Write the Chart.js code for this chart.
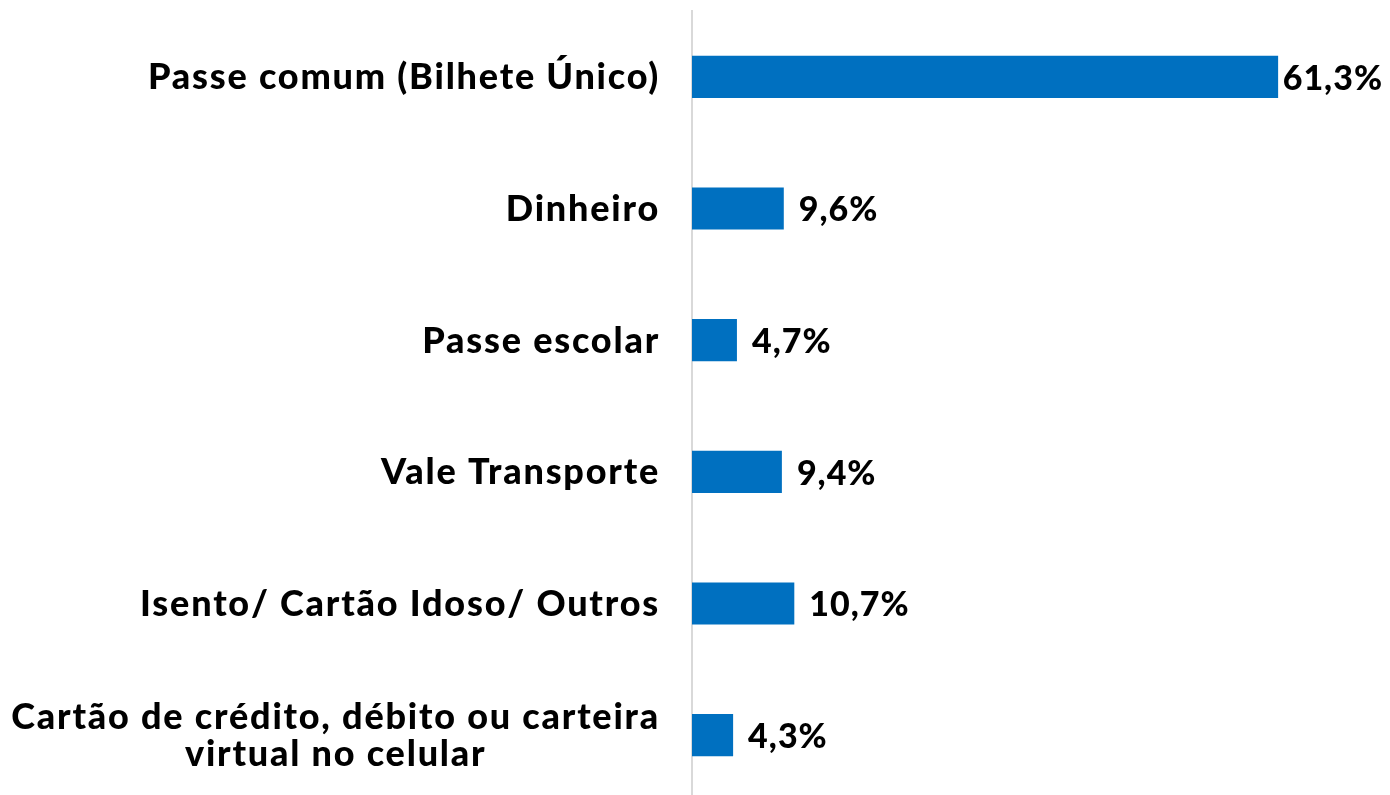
<!DOCTYPE html>
<html lang="pt">
<head>
  <meta charset="UTF-8" />
  <title>Forma de pagamento</title>
  <script src="https://cdn.jsdelivr.net/npm/chart.js"></script>
  <style>
    html, body { margin: 0; padding: 0; background: #fff; overflow: hidden; }
    .wrap { width: 1390px; height: 801px; position: relative; }
  </style>
</head>
<body>
  <div class="wrap"><canvas id="chart"></canvas></div>
  <script>
    const categories = [
      ['Passe comum (Bilhete Único)'],
      ['Dinheiro'],
      ['Passe escolar'],
      ['Vale Transporte'],
      ['Isento/ Cartão Idoso/ Outros'],
      ['Cartão de crédito, débito ou carteira', 'virtual no celular']
    ];
    const shares = [61.3, 9.6, 4.7, 9.4, 10.7, 4.3];

    const LABEL_FONT = '900 36px Lato, "Open Sans", sans-serif';
    const VALUE_FONT = '900 34px Lato, "Open Sans", sans-serif';

    // category labels: block right-aligned, lines centred inside the block
    const categoryLabels = {
      id: 'categoryLabels',
      afterDraw(chart) {
        const { ctx } = chart;
        const yScale = chart.scales.y;
        const right = chart.chartArea.left - 32;
        ctx.save();
        ctx.font = LABEL_FONT;
        ctx.letterSpacing = '1.8px';
        ctx.fillStyle = '#000';
        ctx.textAlign = 'center';
        ctx.textBaseline = 'middle';
        categories.forEach((lines, i) => {
          const w = Math.max(...lines.map(l => ctx.measureText(l).width));
          const cx = right - w / 2;
          const y = yScale.getPixelForValue(i);
          const lh = 37;
          lines.forEach((l, j) => {
            ctx.fillText(l, cx, y + (j - (lines.length - 1) / 2) * lh + 1);
          });
        });
        ctx.restore();
      }
    };

    const valueLabels = {
      id: 'valueLabels',
      afterDatasetsDraw(chart) {
        const { ctx } = chart;
        const meta = chart.getDatasetMeta(0);
        ctx.save();
        ctx.font = VALUE_FONT;
        ctx.letterSpacing = '1px';
        ctx.fillStyle = '#000';
        ctx.textAlign = 'left';
        ctx.textBaseline = 'middle';
        meta.data.forEach((bar, i) => {
          const txt = shares[i].toFixed(1).replace('.', ',') + '%';
          const w = ctx.measureText(txt).width;
          let x = bar.x + 15;
          if (x + w > chart.width - 7) x = chart.width - 7 - w;
          ctx.fillText(txt, x, bar.y + 2);
        });
        ctx.restore();
      }
    };

    new Chart(document.getElementById('chart'), {
      type: 'bar',
      data: {
        labels: categories,
        datasets: [{
          data: shares,
          backgroundColor: '#0070C0',
          borderWidth: 0,
          categoryPercentage: 1,
          barPercentage: 0.32
        }]
      },
      options: {
        indexAxis: 'y',
        responsive: true,
        maintainAspectRatio: false,
        animation: false,
        layout: { padding: { top: 11, right: 0, bottom: 0, left: 0 } },
        scales: {
          x: {
            display: false,
            min: 0,
            max: 73
          },
          y: {
            grid: { display: false },
            border: { display: true, color: '#d9d9d9', width: 2 },
            ticks: { display: false },
            afterFit(scale) { scale.width = 692; }
          }
        },
        plugins: {
          legend: { display: false },
          tooltip: { enabled: false }
        }
      },
      plugins: [categoryLabels, valueLabels]
    });
  </script>
</body>
</html>
